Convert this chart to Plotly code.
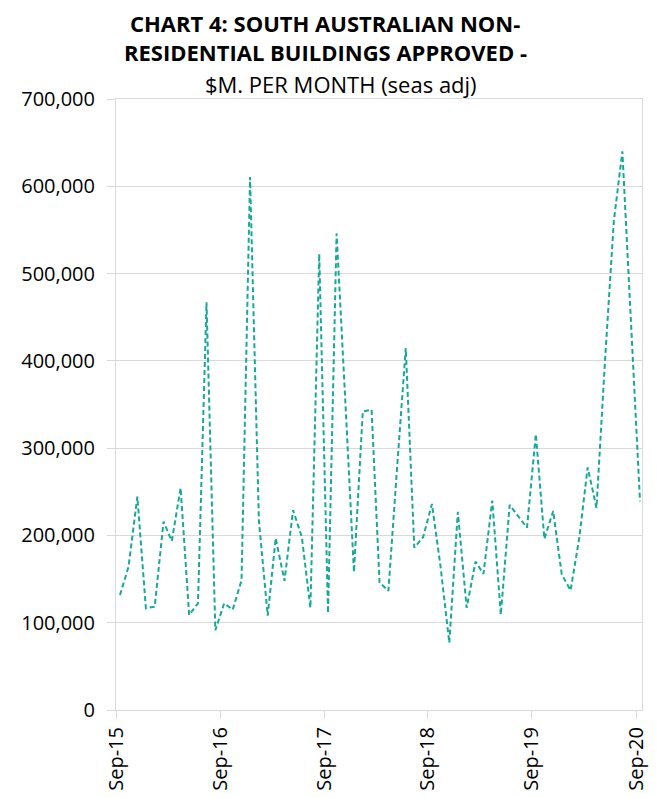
import pandas as pd
import plotly.graph_objects as go

# monthly values, Sep-15 .. Sep-20
months = pd.date_range("2015-09-01", periods=61, freq="MS") + pd.Timedelta(days=14)
values = [
    131700, 164000, 244400, 116500, 118400, 215900, 193500, 254400, 108900, 122200,
    467000, 91300, 122200, 115000, 148400, 610600, 217000, 108000, 196900, 148000,
    229000, 198000, 117000, 522600, 111000, 546000, 352000, 158000, 342000, 344000,
    146000, 136500, 275000, 414600, 186000, 198000, 236000, 165000, 77000, 227000,
    117000, 170000, 156000, 240000, 109000, 235000, 222000, 209000, 316000, 196000,
    228000, 155500, 137000, 198000, 278000, 231600, 400000, 560000, 640000, 440000,
    239000,
]
tick_dates = pd.date_range("2015-09-01", periods=6, freq="12MS")
tick_text = ["Sep-15", "Sep-16", "Sep-17", "Sep-18", "Sep-19", "Sep-20"]

FONT = "Open Sans"
grid = "#d9d9d9"

# page has an 8px body margin, so the figure is drawn a bit smaller
W, H = 649, 790
L, R, T, B = 108, 15, 91, 88

fig = go.Figure()
fig.add_trace(go.Scatter(x=months, y=values, mode="lines",
                         line=dict(color="#17a89a", width=2, dash="5px,3px")))

fig.update_layout(
    width=W, height=H, plot_bgcolor="white", paper_bgcolor="white",
    margin=dict(l=L, r=R, t=T, b=B), showlegend=False,
    font=dict(family=FONT, color="black", size=20),
)
fig.update_xaxes(
    range=["2015-09-01", "2020-09-22"], tickvals=tick_dates, ticktext=tick_text,
    tickangle=-90, ticks="outside", ticklen=8, tickcolor=grid,
    showgrid=False, showline=True, linecolor=grid, mirror=True,
    tickfont=dict(size=20), automargin=False,
)
fig.update_yaxes(
    range=[0, 700000], dtick=100000, tickformat=",", ticks="outside",
    ticklen=8, tickcolor=grid, gridcolor=grid, showline=True, linecolor=grid,
    mirror=True, zeroline=False, tickfont=dict(size=20), ticklabelstandoff=8,
    automargin=False,
)

# title lines: (text, centre x, centre y) in page pixels
titles = [
    ("<b>CHART 4: SOUTH AUSTRALIAN NON-</b>", 325, 23),
    ("<b>RESIDENTIAL BUILDINGS APPROVED -</b>", 325, 52),
    ("$M. PER MONTH (seas adj)", 341, 84),
]
pw, ph = W - L - R, H - T - B
for text, x, y in titles:
    fx, fy = x - 8, y - 8
    fig.add_annotation(text=text, x=(fx - L) / pw, y=(H - B - fy) / ph,
                       xref="paper", yref="paper", showarrow=False,
                       xanchor="center", yanchor="middle", borderpad=0,
                       font=dict(size=22, family=FONT, color="black"))

fig.write_html("out.html")
